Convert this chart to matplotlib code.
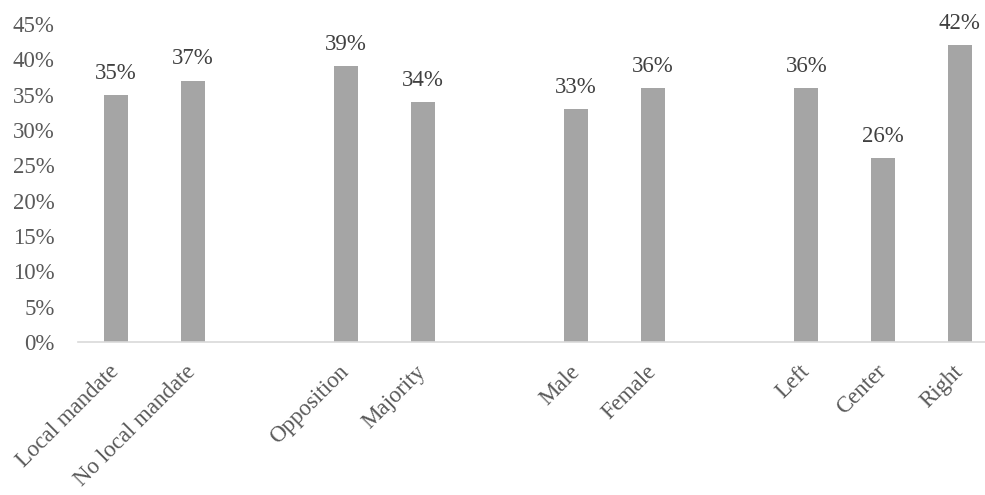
import numpy as np
import matplotlib
matplotlib.use("Agg")
import matplotlib.pyplot as plt
from matplotlib.ticker import FuncFormatter

categories = ["Local mandate", "No local mandate", "", "Opposition", "Majority", "",
              "Male", "Female", "", "Left", "Center", "Right"]
values = [35, 37, None, 39, 34, None, 33, 36, None, 36, 26, 42]
yticks = [0, 5, 10, 15, 20, 25, 30, 35, 40, 45]

plt.rcParams['font.family'] = ['Liberation Serif', 'DejaVu Serif']

fig = plt.figure(figsize=(9.85, 4.95), dpi=100)
ax = fig.add_axes([0.0788, 0.309, 0.9212, 0.6424])

vals = np.array([np.nan if v is None else v for v in values], dtype=float)
x = np.arange(len(categories))
ax.bar(x, vals, width=0.313, color='#A5A5A5', zorder=2)

for xi, v in zip(x, vals):
    if np.isnan(v):
        continue
    ax.annotate(f"{int(v)}%", (xi, v), xytext=(0, 8), textcoords='offset points',
                ha='center', va='bottom', fontsize=16.5, color='#404040')

ax.set_xlim(-0.5, 11.33)
ax.set_ylim(0, 45)
ax.set_yticks(yticks)
ax.yaxis.set_major_formatter(FuncFormatter(lambda v, p: f"{int(v)}%"))
ax.set_xticks(x)
ax.set_xticklabels(categories, rotation=45, ha='right', va='center',
                   rotation_mode='anchor')
ax.tick_params(axis='x', length=0, pad=19, labelsize=16.5, labelcolor='#595959')
ax.tick_params(axis='y', length=0, pad=16.5, labelsize=16.5, labelcolor='#595959')
for lbl in ax.get_yticklabels():
    lbl.set_ha('right')

for s in ['top', 'right', 'left']:
    ax.spines[s].set_visible(False)
ax.spines['bottom'].set_color('#D9D9D9')
ax.spines['bottom'].set_linewidth(1.2)
ax.spines['bottom'].set_zorder(3)

fig.savefig("out.png", dpi=100)
